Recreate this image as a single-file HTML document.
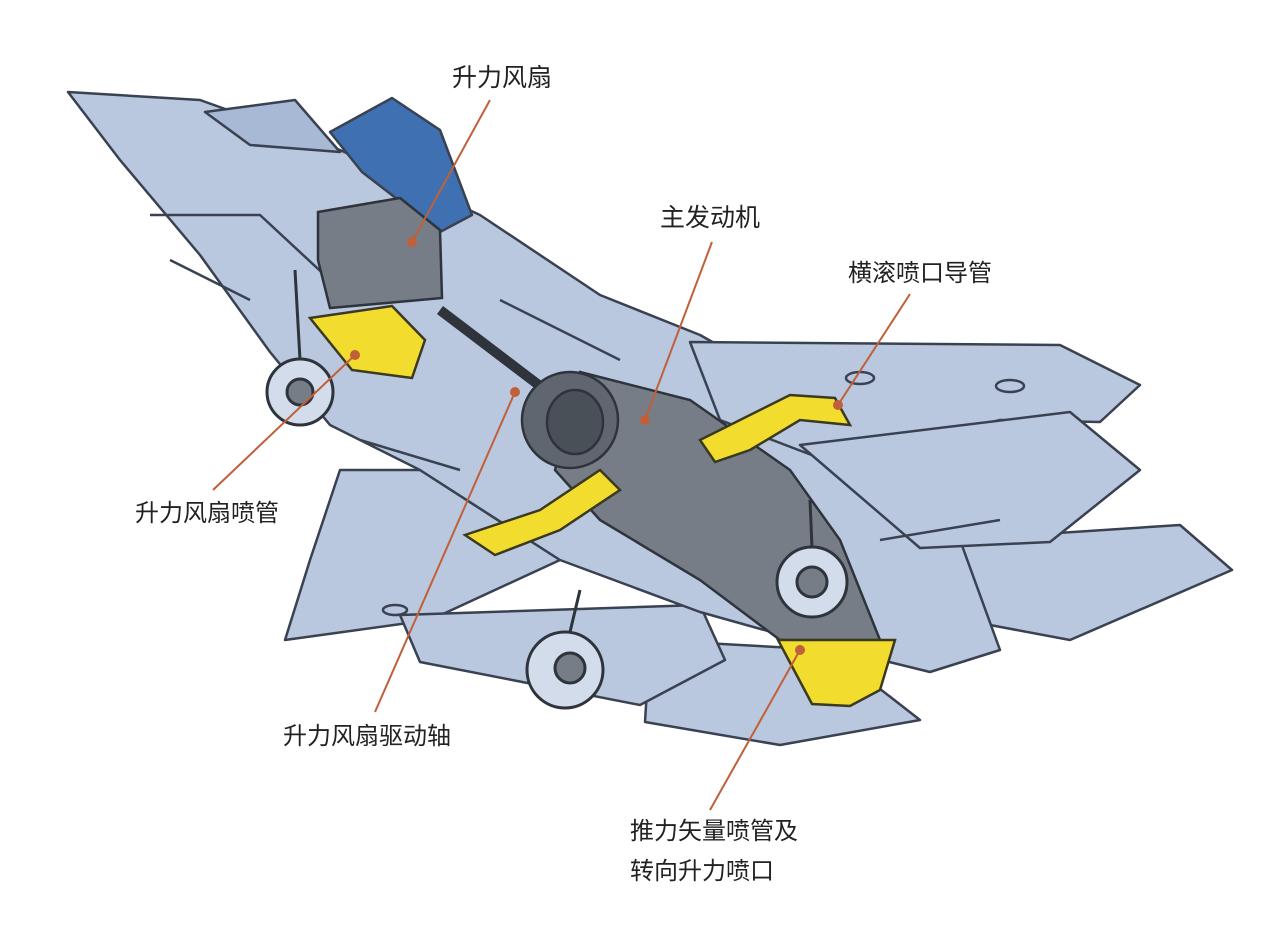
<!DOCTYPE html>
<html><head><meta charset="utf-8"><style>
html,body{margin:0;padding:0;background:#fff;}
svg{display:block}
text{font-family:"Liberation Sans","Noto Sans CJK SC",sans-serif;font-size:24px;fill:#222;}
</style></head><body>
<svg width="1280" height="932" viewBox="0 0 1280 932" xmlns="http://www.w3.org/2000/svg">
<g stroke="#3a4252" stroke-width="2.5" stroke-linejoin="round" fill="#b9c8df">
<polygon points="650,640 830,650 920,720 780,745 645,722"/>
<polygon points="950,540 1180,525 1232,570 1070,640 990,625"/>
<polygon points="340,470 420,470 560,560 430,620 285,640 310,560"/>
<polygon points="400,615 700,605 725,660 640,705 420,662"/>
<polygon points="68,92 200,100 340,150 480,215 600,295 700,335 780,380 900,440 960,540 1000,650 930,672 800,640 700,612 560,560 420,470 330,425 270,352 200,255 120,160"/>
<polygon points="690,342 1060,345 1140,385 1100,422 1000,420 830,462 720,420"/>
<polygon points="800,445 1070,412 1140,470 1050,542 920,548"/>
<polygon points="205,112 295,100 340,152 250,145" fill="#a7b9d4"/>
<polygon points="330,132 392,98 440,130 472,215 440,232 362,172" fill="#3f70b2"/>
<polyline points="150,215 260,215 330,280" fill="none"/>
<polyline points="170,260 250,300" fill="none"/>
<polyline points="500,300 620,360" fill="none"/>
<polyline points="360,440 460,470" fill="none"/>
<polyline points="880,540 1000,520" fill="none"/>
<ellipse cx="860" cy="378" rx="14" ry="6" fill="#b9c8df"/>
<ellipse cx="1010" cy="386" rx="14" ry="6" fill="#b9c8df"/>
<ellipse cx="395" cy="610" rx="12" ry="5"/>
</g>
<g stroke="#2f343c" stroke-width="2.5" fill="#767d86">
<polygon points="318,212 400,198 440,230 442,298 330,308 318,260"/>
<line x1="440" y1="310" x2="565" y2="405" stroke-width="10"/>
<polygon points="580,372 690,400 790,470 840,540 880,640 780,640 700,580 600,520 555,470"/>
<ellipse cx="570" cy="420" rx="48" ry="48" fill="#5f666f"/>
<ellipse cx="575" cy="422" rx="28" ry="32" fill="#4a5058"/>
</g>
<g stroke="#3a3a20" stroke-width="2.5" fill="#f2dc2e">
<polygon points="310,318 392,306 425,340 412,378 352,370"/>
<polygon points="700,440 790,395 835,398 850,425 800,420 750,450 715,462"/>
<polygon points="465,535 540,510 600,470 620,490 560,530 495,555"/>
<polygon points="778,640 895,640 880,690 850,706 812,704"/>
</g>
<g stroke="#2f343c" stroke-width="3">
<circle cx="300" cy="392" r="33" fill="#d2dcea"/>
<circle cx="300" cy="392" r="13" fill="#767d86"/>
<circle cx="812" cy="582" r="35" fill="#d2dcea"/>
<circle cx="812" cy="582" r="15" fill="#767d86"/>
<circle cx="565" cy="670" r="38" fill="#d2dcea"/>
<circle cx="570" cy="668" r="15" fill="#767d86"/>
<line x1="295" y1="270" x2="300" y2="360"/>
<line x1="810" y1="500" x2="812" y2="548"/>
<line x1="580" y1="590" x2="570" y2="632"/>
</g>
<g stroke="#c0603a" stroke-width="2" fill="#c0603a">
<line x1="490" y1="100" x2="412" y2="242"/><circle cx="412" cy="242" r="4"/>
<line x1="712" y1="242" x2="645" y2="420"/><circle cx="645" cy="420" r="4"/>
<line x1="910" y1="294" x2="838" y2="405"/><circle cx="838" cy="405" r="4"/>
<line x1="213" y1="490" x2="355" y2="355"/><circle cx="355" cy="355" r="4"/>
<line x1="375" y1="712" x2="515" y2="392"/><circle cx="515" cy="392" r="4"/>
<line x1="710" y1="810" x2="800" y2="650"/><circle cx="800" cy="650" r="4"/>
</g>
<text x="452" y="86" style="font-size:25px">升力风扇</text>
<text x="660" y="226" style="font-size:25px">主发动机</text>
<text x="848" y="281">横滚喷口导管</text>
<text x="135" y="521">升力风扇喷管</text>
<text x="283" y="744">升力风扇驱动轴</text>
<text x="630" y="839">推力矢量喷管及</text>
<text x="630" y="879">转向升力喷口</text>
</svg>
</body></html>
